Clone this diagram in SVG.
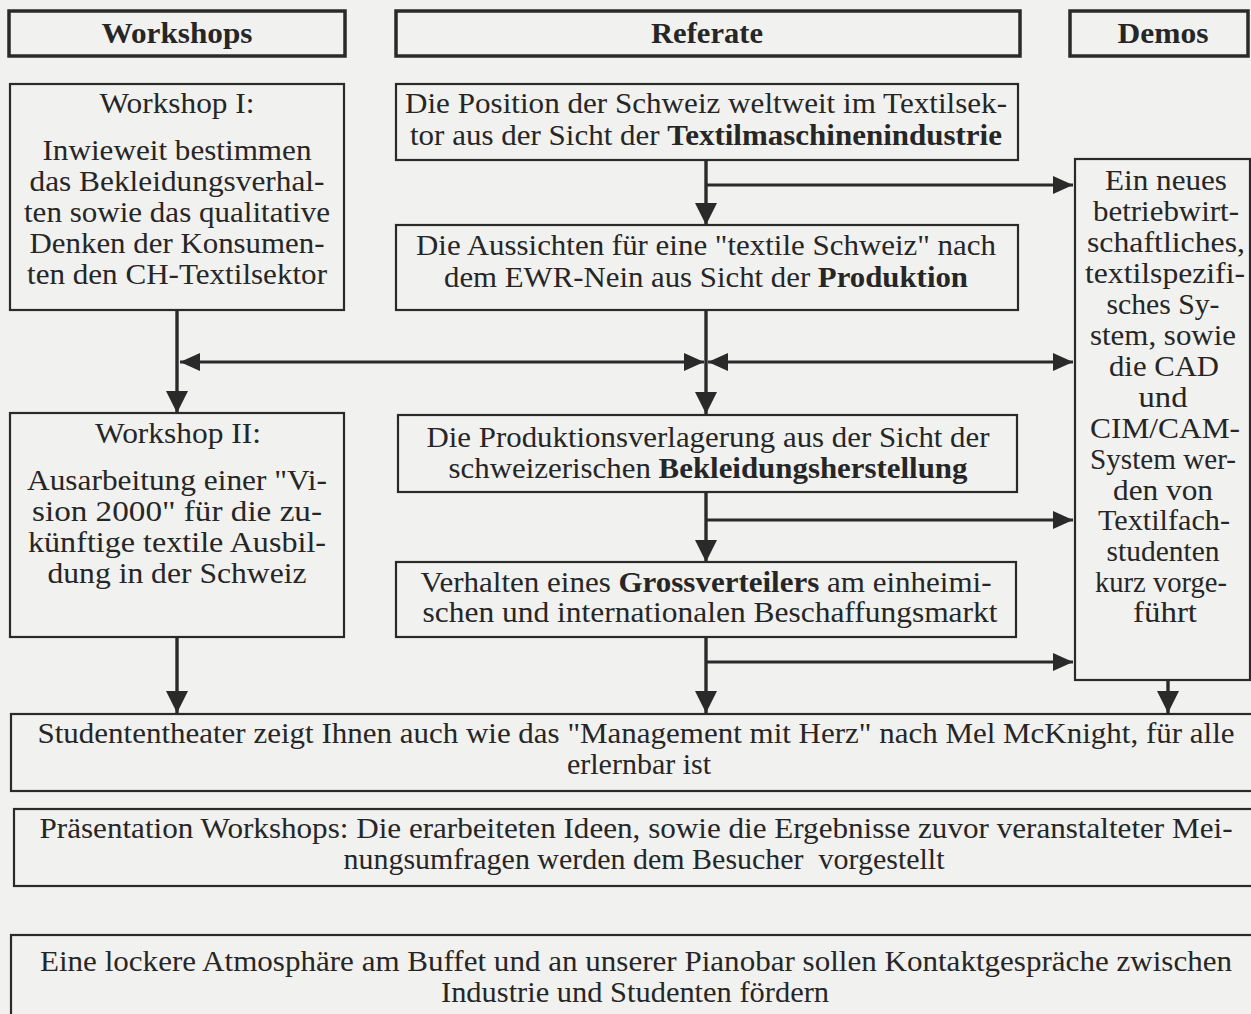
<svg xmlns="http://www.w3.org/2000/svg" width="1251" height="1014" viewBox="0 0 1251 1014" font-family="'Liberation Serif', Tinos, 'Times New Roman', Times, serif">
<style>
text{font-family:'Liberation Serif', Tinos, 'Times New Roman', Times, serif;font-size:29px;fill:#262626;text-anchor:middle}
.b{font-weight:bold}
.hdr rect{fill:none;stroke:#2a2a2a;stroke-width:3.5}
.box{fill:none;stroke:#2a2a2a;stroke-width:2.2}
.c{fill:none;stroke:#2a2a2a;stroke-width:2.8}
.v{stroke-width:3.4}
</style>
<defs>
<marker id="av" viewBox="0 0 22 22" refX="22" refY="11" markerWidth="22" markerHeight="22" markerUnits="userSpaceOnUse" orient="auto-start-reverse"><path d="M0,0 L22,11 L0,22 z" fill="#2a2a2a"/></marker>
<marker id="ah" viewBox="0 0 20 18" refX="20" refY="9" markerWidth="20" markerHeight="18" markerUnits="userSpaceOnUse" orient="auto-start-reverse"><path d="M0,0 L20,9 L0,18 z" fill="#2a2a2a"/></marker>
</defs>
<rect width="1251" height="1014" fill="#f1f1f0"/>

<g id="hdr-workshops" class="hdr"><rect x="9" y="11" width="336" height="45"/><text x="177" y="43" class="b" textLength="151" lengthAdjust="spacingAndGlyphs">Workshops</text></g>
<g id="hdr-referate" class="hdr"><rect x="396" y="11" width="624" height="45"/><text x="707" y="43" class="b" textLength="112" lengthAdjust="spacingAndGlyphs">Referate</text></g>
<g id="hdr-demos" class="hdr"><rect x="1070" y="11" width="178" height="45"/><text x="1163" y="43" class="b" textLength="91" lengthAdjust="spacingAndGlyphs">Demos</text></g>

<g id="workshop1"><rect class="box" x="10" y="84" width="334" height="226"/>
<text x="177" y="113" textLength="155" lengthAdjust="spacingAndGlyphs">Workshop I:</text>
<text x="177" y="160" textLength="269" lengthAdjust="spacingAndGlyphs">Inwieweit bestimmen</text>
<text x="177" y="191" textLength="295" lengthAdjust="spacingAndGlyphs">das Bekleidungsverhal-</text>
<text x="177" y="222" textLength="306" lengthAdjust="spacingAndGlyphs">ten sowie das qualitative</text>
<text x="177" y="253" textLength="295" lengthAdjust="spacingAndGlyphs">Denken der Konsumen-</text>
<text x="177" y="284" textLength="300" lengthAdjust="spacingAndGlyphs">ten den CH-Textilsektor</text>
</g>

<g id="referat1"><rect class="box" x="396" y="84" width="622" height="76"/>
<text x="706" y="113" textLength="602" lengthAdjust="spacingAndGlyphs">Die Position der Schweiz weltweit im Textilsek-</text>
<text x="706" y="145" textLength="592" lengthAdjust="spacingAndGlyphs">tor aus der Sicht der <tspan class="b">Textilmaschinenindustrie</tspan></text>
</g>

<g id="referat2"><rect class="box" x="396" y="225" width="622" height="85"/>
<text x="706" y="255" textLength="580" lengthAdjust="spacingAndGlyphs">Die Aussichten für eine "textile Schweiz" nach</text>
<text x="706" y="287" textLength="524" lengthAdjust="spacingAndGlyphs">dem EWR-Nein aus Sicht der <tspan class="b">Produktion</tspan></text>
</g>

<g id="workshop2"><rect class="box" x="10" y="413" width="334" height="224"/>
<text x="178" y="443" textLength="166" lengthAdjust="spacingAndGlyphs">Workshop II:</text>
<text x="177" y="490" textLength="300" lengthAdjust="spacingAndGlyphs">Ausarbeitung einer "Vi-</text>
<text x="177" y="521" textLength="290" lengthAdjust="spacingAndGlyphs">sion 2000" für die zu-</text>
<text x="177" y="552" textLength="298" lengthAdjust="spacingAndGlyphs">künftige textile Ausbil-</text>
<text x="177" y="583" textLength="259" lengthAdjust="spacingAndGlyphs">dung in der Schweiz</text>
</g>

<g id="referat3"><rect class="box" x="398" y="415" width="619" height="77"/>
<text x="708" y="447" textLength="563" lengthAdjust="spacingAndGlyphs">Die Produktionsverlagerung aus der Sicht der</text>
<text x="708" y="478" textLength="519" lengthAdjust="spacingAndGlyphs">schweizerischen <tspan class="b">Bekleidungsherstellung</tspan></text>
</g>

<g id="referat4"><rect class="box" x="396" y="562" width="620" height="75"/>
<text x="706" y="592" textLength="571" lengthAdjust="spacingAndGlyphs">Verhalten eines <tspan class="b">Grossverteilers</tspan> am einheimi-</text>
<text x="710" y="622" textLength="575" lengthAdjust="spacingAndGlyphs">schen und internationalen Beschaffungsmarkt</text>
</g>

<g id="demo"><rect class="box" x="1075" y="159" width="175" height="521"/>
<text x="1166" y="190" textLength="122" lengthAdjust="spacingAndGlyphs">Ein neues</text>
<text x="1166" y="221" textLength="146" lengthAdjust="spacingAndGlyphs">betriebwirt-</text>
<text x="1166" y="252" textLength="158" lengthAdjust="spacingAndGlyphs">schaftliches,</text>
<text x="1165" y="283" textLength="160" lengthAdjust="spacingAndGlyphs">textilspezifi-</text>
<text x="1163" y="314" textLength="113" lengthAdjust="spacingAndGlyphs">sches Sy-</text>
<text x="1163" y="345" textLength="146" lengthAdjust="spacingAndGlyphs">stem, sowie</text>
<text x="1164" y="376" textLength="110" lengthAdjust="spacingAndGlyphs">die CAD</text>
<text x="1163" y="407" textLength="49" lengthAdjust="spacingAndGlyphs">und</text>
<text x="1165" y="438" textLength="150" lengthAdjust="spacingAndGlyphs">CIM/CAM-</text>
<text x="1163" y="469" textLength="146" lengthAdjust="spacingAndGlyphs">System wer-</text>
<text x="1163" y="500" textLength="100" lengthAdjust="spacingAndGlyphs">den von</text>
<text x="1164" y="530" textLength="132" lengthAdjust="spacingAndGlyphs">Textilfach-</text>
<text x="1163" y="561" textLength="113" lengthAdjust="spacingAndGlyphs">studenten</text>
<text x="1161" y="592" textLength="132" lengthAdjust="spacingAndGlyphs">kurz vorge-</text>
<text x="1165" y="622" textLength="64" lengthAdjust="spacingAndGlyphs">führt</text>
</g>

<g id="theater"><rect class="box" x="11" y="714" width="1250" height="77"/>
<text x="636" y="743" textLength="1197" lengthAdjust="spacingAndGlyphs">Studententheater zeigt Ihnen auch wie das "Management mit Herz" nach Mel McKnight, für alle</text>
<text x="639" y="774" textLength="144" lengthAdjust="spacingAndGlyphs">erlernbar ist</text>
</g>

<g id="praesentation"><rect class="box" x="14" y="809" width="1250" height="77"/>
<text x="636" y="838" textLength="1193" lengthAdjust="spacingAndGlyphs">Präsentation Workshops: Die erarbeiteten Ideen, sowie die Ergebnisse zuvor veranstalteter Mei-</text>
<text x="644" y="869" textLength="601" lengthAdjust="spacingAndGlyphs" xml:space="preserve">nungsumfragen werden dem Besucher  vorgestellt</text>
</g>

<g id="buffet"><rect class="box" x="11" y="935" width="1250" height="90"/>
<text x="636" y="971" textLength="1192" lengthAdjust="spacingAndGlyphs">Eine lockere Atmosphäre am Buffet und an unserer Pianobar sollen Kontaktgespräche zwischen</text>
<text x="635" y="1002" textLength="388" lengthAdjust="spacingAndGlyphs">Industrie und Studenten fördern</text>
</g>

<g id="connectors">
<path class="c v" d="M706,160 V225" marker-end="url(#av)"/>
<path class="c" d="M706,185 H1073" marker-end="url(#ah)"/>
<path class="c v" d="M706,310 V414" marker-end="url(#av)"/>
<path class="c" d="M180,362 H704" marker-start="url(#ah)" marker-end="url(#ah)"/>
<path class="c" d="M708,362 H1073" marker-start="url(#ah)" marker-end="url(#ah)"/>
<path class="c v" d="M177,310 V413" marker-end="url(#av)"/>
<path class="c v" d="M706,492 V562" marker-end="url(#av)"/>
<path class="c" d="M706,520 H1073" marker-end="url(#ah)"/>
<path class="c v" d="M706,637 V713" marker-end="url(#av)"/>
<path class="c" d="M706,662 H1073" marker-end="url(#ah)"/>
<path class="c v" d="M177,637 V713" marker-end="url(#av)"/>
<path class="c v" d="M1168,680 V713" marker-end="url(#av)"/>
</g>
</svg>
